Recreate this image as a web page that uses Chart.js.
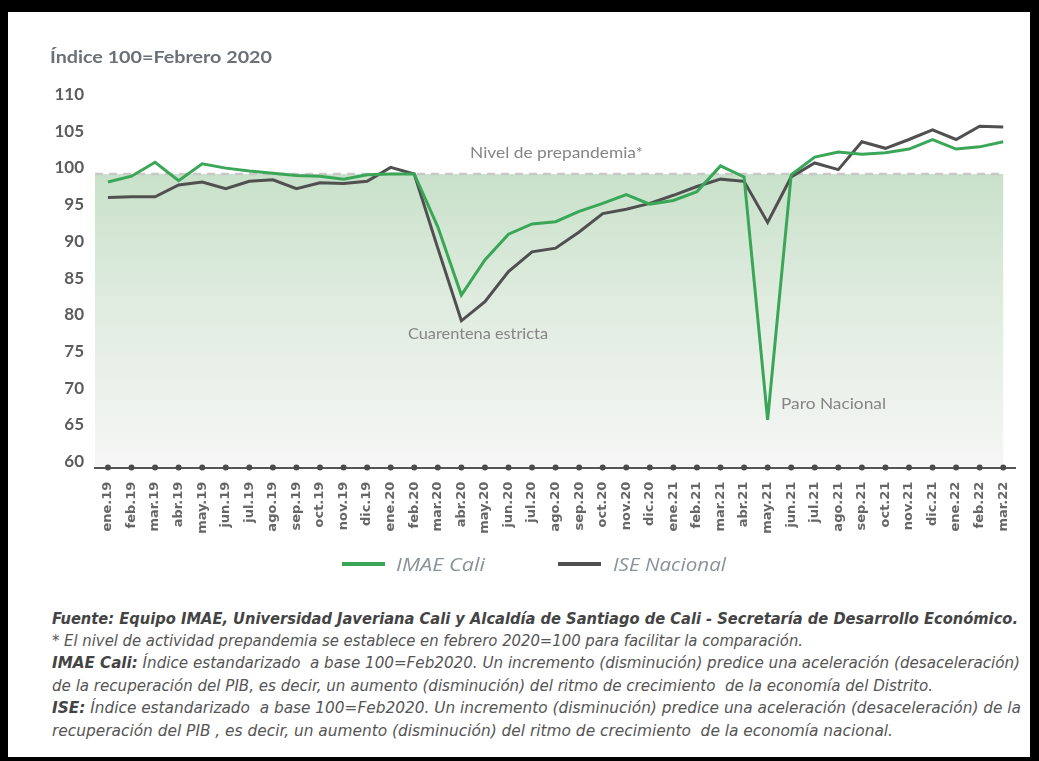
<!DOCTYPE html>
<html><head><meta charset="utf-8">
<script src="https://cdn.jsdelivr.net/npm/chart.js@4.4.1/dist/chart.umd.min.js"></script>
<style>
html,body{margin:0;padding:0;background:#fff;}
body{width:1039px;height:761px;position:relative;overflow:hidden;}
.frame{position:absolute;left:0;top:0;width:1039px;height:761px;box-sizing:border-box;border-top:12px solid #000;border-left:8px solid #000;border-right:9px solid #000;border-bottom:4px solid #000;pointer-events:none;z-index:5}
#wrap{position:absolute;left:0;top:0;width:1039px;height:560px;}
.t{position:absolute;white-space:nowrap;transform-origin:0 50%;line-height:1.15;}
.title{font-family:Lato,sans-serif;font-weight:bold;font-size:17px;color:#6b7079;}
.ann{font-family:Lato,sans-serif;font-size:15px;color:#858585;}
.leg{font-family:"Open Sans",sans-serif;font-style:italic;font-size:18px;color:#8a929c;}
.sw{position:absolute;height:4px;}
.fn{font-family:"Liberation Sans Narrow","DejaVu Sans Condensed","Open Sans",sans-serif;font-style:italic;font-size:15px;color:#555;}
.fn b{color:#444;}
</style></head><body>
<div id="wrap"><canvas id="c" width="1039" height="560"></canvas></div>
<div class="t title" data-x="50" data-cy="57" data-w="222">Índice 100=Febrero 2020</div>
<div class="t ann" data-x="470" data-cy="153" data-w="173">Nivel de prepandemia*</div>
<div class="t ann" data-x="408" data-cy="334" data-w="140">Cuarentena estricta</div>
<div class="t ann" data-x="781" data-cy="404" data-w="105">Paro Nacional</div>
<div id="legend"></div>
<div class="t fn" data-x="52" data-cy="620" data-w="966"><b>Fuente: Equipo IMAE, Universidad Javeriana Cali y Alcaldía de Santiago de Cali - Secretaría de Desarrollo Económico.</b></div>
<div class="t fn" data-x="52" data-cy="642" data-w="751">* El nivel de actividad prepandemia se establece en febrero 2020=100 para facilitar la comparación.</div>
<div class="t fn" data-x="52" data-cy="664" data-w="968"><b>IMAE Cali:</b> Índice estandarizado &nbsp;a base 100=Feb2020. Un incremento (disminución) predice una aceleración (desaceleración)</div>
<div class="t fn" data-x="52" data-cy="687" data-w="881">de la recuperación del PIB, es decir, un aumento (disminución) del ritmo de crecimiento &nbsp;de la economía del Distrito.</div>
<div class="t fn" data-x="52" data-cy="709" data-w="969"><b>ISE:</b> Índice estandarizado &nbsp;a base 100=Feb2020. Un incremento (disminución) predice una aceleración (desaceleración) de la</div>
<div class="t fn" data-x="52" data-cy="732" data-w="841">recuperación del PIB , es decir, un aumento (disminución) del ritmo de crecimiento &nbsp;de la economía nacional.</div>
<div class="frame"></div>
<script>
const categories = ['ene.19','feb.19','mar.19','abr.19','may.19','jun.19','jul.19','ago.19','sep.19','oct.19','nov.19','dic.19',
  'ene.20','feb.20','mar.20','abr.20','may.20','jun.20','jul.20','ago.20','sep.20','oct.20','nov.20','dic.20',
  'ene.21','feb.21','mar.21','abr.21','may.21','jun.21','jul.21','ago.21','sep.21','oct.21','nov.21','dic.21',
  'ene.22','feb.22','mar.22'];
const imaeCali = [98.9,99.7,101.6,99.1,101.4,100.8,100.4,100.1,99.8,99.7,99.3,99.9,
  100.0,100.0,92.8,83.5,88.3,91.8,93.2,93.5,94.9,96.0,97.2,95.9,
  96.4,97.6,101.1,99.6,66.5,99.9,102.3,103.0,102.7,102.9,103.4,104.7,
  103.4,103.7,104.4];
const iseNacional = [96.8,96.9,96.9,98.5,98.9,98.0,99.0,99.2,98.0,98.8,98.7,99.0,
  100.9,100.0,89.9,80.0,82.6,86.7,89.4,89.9,92.1,94.6,95.2,96.0,
  97.1,98.3,99.3,99.0,93.4,99.6,101.5,100.6,104.4,103.5,104.7,106.0,
  104.7,106.5,106.4];
const yTicks = [60,65,70,75,80,85,90,95,100,105,110];
const prepandemiaLevel = 100;
const seriesNames = ['IMAE Cali','ISE Nacional'];
const seriesColors = ['#3aa657','#505050'];

const bandPlugin = {
  id:'band',
  beforeDatasetsDraw(chart){
    const {ctx, chartArea:a, scales:{x,y}} = chart;
    const top = y.getPixelForValue(prepandemiaLevel);
    const right = x.getPixelForValue(categories.length-1);
    const g = ctx.createLinearGradient(0, top, 0, a.bottom);
    g.addColorStop(0,'#c9e1ca');
    g.addColorStop(0.45,'#e0ece0');
    g.addColorStop(1,'#f6f6f6');
    ctx.save();
    ctx.fillStyle = g;
    ctx.fillRect(a.left, top, right - a.left, a.bottom - 1 - top);
    ctx.setLineDash([8,6]);
    ctx.strokeStyle = '#c8c8c8';
    ctx.lineWidth = 2.5;
    ctx.beginPath(); ctx.moveTo(a.left, top); ctx.lineTo(right, top); ctx.stroke();
    ctx.restore();
  }
};
const dotsPlugin = {
  id:'dots',
  afterDraw(chart){
    const {ctx, chartArea:a, scales:{x}} = chart;
    ctx.save(); ctx.fillStyle = '#4a4a4a';
    categories.forEach((c,i)=>{
      ctx.beginPath(); ctx.arc(x.getPixelForValue(i), a.bottom, 3, 0, Math.PI*2); ctx.fill();
    });
    ctx.restore();
  }
};

const mk = (vals, i) => ({
  label: seriesNames[i],
  data: vals.map((v,k)=>({x:k, y:v})),
  borderColor: seriesColors[i],
  backgroundColor: seriesColors[i],
  borderWidth: 3,
  pointRadius: 0,
  tension: 0,
  borderJoinStyle: 'miter',
  fill: false
});

new Chart(document.getElementById('c'), {
  type: 'line',
  data: { datasets: [mk(iseNacional,1), mk(imaeCali,0)].reverse() },
  options: {
    responsive: false,
    animation: false,
    layout: { padding: { top: 100.6, right: 24, bottom: 0, left: 0 } },
    plugins: { legend: { display: false }, tooltip: { enabled: false } },
    scales: {
      x: {
        type: 'linear', min: -0.55, max: 38.5,
        afterBuildTicks: s => { s.ticks = categories.map((c,i)=>({value:i})); },
        afterFit: s => { s.height = 92.4; },
        grid: { display: false, drawTicks: false },
        border: { display: true, color: '#555', width: 2 },
        ticks: { autoSkip: false, minRotation: 90, maxRotation: 90, padding: 14,
          color: '#666', font: { family: 'DejaVu Sans', weight: 'bold', size: 13 },
          callback: v => categories[v] }
      },
      y: {
        min: 60, max: 110,
        afterBuildTicks: s => { s.ticks = yTicks.map(v=>({value:v})); },
        afterFit: s => { s.width = 95; },
        grid: { display: false, drawTicks: false },
        border: { display: false },
        ticks: { padding: 11, labelOffset: -6, color: '#5c5c5c',
          font: { family: 'Lato', weight: 'bold', size: 17 } }
      }
    }
  },
  plugins: [bandPlugin, dotsPlugin]
});

// legend (HTML) built from series
const legend = document.getElementById('legend');
const legPos = [{sx:342, tx:396},{sx:558, tx:613}];
seriesNames.forEach((n,i)=>{
  const sw = document.createElement('div'); sw.className='sw';
  sw.style.left = legPos[i].sx+'px'; sw.style.top = '562px'; sw.style.width='43px'; sw.style.background = seriesColors[i];
  legend.appendChild(sw);
  const t = document.createElement('div'); t.className='t leg'; t.textContent = n;
  t.dataset.x = legPos[i].tx; t.dataset.cy = 564; t.dataset.w = i===0 ? 89 : 113;
  legend.appendChild(t);
});

document.querySelectorAll('.t').forEach(el=>{
  const r = el.getBoundingClientRect();
  const w = +el.dataset.w;
  el.style.left = el.dataset.x + 'px';
  el.style.top = (+el.dataset.cy - r.height/2) + 'px';
  if (w) el.style.transform = 'scaleX(' + (w / r.width) + ')';
});
</script>
</body></html>
